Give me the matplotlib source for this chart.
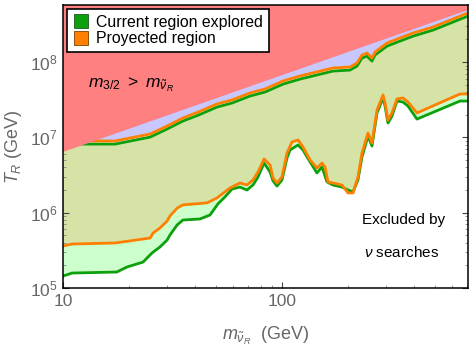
import matplotlib
matplotlib.use("Agg")
import matplotlib.pyplot as plt
from matplotlib.lines import Line2D
from matplotlib.ticker import LogLocator, NullFormatter, LogFormatterMathtext

plt.rcParams['font.family'] = ['Liberation Sans', 'DejaVu Sans']
plt.rcParams['mathtext.fontset'] = 'custom'
plt.rcParams['mathtext.rm'] = 'Liberation Sans'
plt.rcParams['mathtext.it'] = 'Liberation Sans:italic'

# data (m in GeV, T_R in GeV)
m_orange_low = [10, 11.0, 17.3, 25.0, 25.8, 27.7, 29.9, 30.8, 33.2, 35.3, 45.5, 50.5,
                57.9, 64.3, 69.2, 73.7, 77.7, 82.8, 88.2, 91.0, 94.9, 100, 105.4,
                111.1, 118.4, 124.7, 134.3, 144.5, 152.3, 157.2, 162.2, 171.0, 187.9,
                200.2, 211.0, 222.3, 231.9, 247.0, 257.6, 271.6, 289.3, 295.4, 304.8,
                317.9, 335.0, 356.8, 376.1, 413.4, 649.9, 707]
T_orange_low = [3.61e5, 3.84e5, 3.96e5, 4.61e5, 5.37e5, 6.26e5, 7.76e5, 9.04e5, 1.15e6,
                1.27e6, 1.35e6, 1.57e6, 2.13e6, 2.48e6, 2.33e6, 2.72e6, 3.47e6, 5.17e6,
                4.30e6, 2.90e6, 2.48e6, 2.98e6, 6.21e6, 8.69e6, 9.23e6, 7.46e6, 5.01e6,
                3.92e6, 4.57e6, 4.05e6, 2.56e6, 2.48e6, 2.33e6, 1.83e6, 1.83e6, 2.98e6,
                6.21e6, 1.14e7, 8.43e6, 2.31e7, 3.66e7, 2.86e7, 1.70e7, 2.11e7, 3.24e7,
                3.34e7, 2.95e7, 2.11e7, 3.77e7, 3.77e7]

m_green_low = [10, 11.0, 17.6, 19.6, 23.2, 25.5, 27.7, 29.9, 30.8, 33.2, 35.3, 42.2, 46.9,
               51.0, 54.9, 59.1, 64.3, 69.2, 73.7, 77.7, 82.8, 88.2, 91.0, 94.9, 100,
               105.4, 108.8, 118.4, 124.7, 130.1, 144.5, 152.3, 160.6, 171.0, 187.9,
               200.2, 211.0, 222.3, 231.9, 247.0, 257.6, 271.6, 289.3, 295.4, 304.8,
               317.9, 335.0, 356.8, 376.1, 413.4, 649.9, 707]
T_green_low = [1.44e5, 1.58e5, 1.63e5, 1.90e5, 2.21e5, 2.92e5, 3.50e5, 4.34e5, 5.06e5,
               6.87e5, 8.00e5, 8.25e5, 9.32e5, 1.31e6, 1.62e6, 2.06e6, 2.19e6, 2.00e6,
               2.33e6, 2.98e6, 4.57e6, 3.47e6, 2.64e6, 2.26e6, 2.72e6, 5.33e6, 6.80e6,
               7.93e6, 6.80e6, 5.49e6, 3.37e6, 4.05e6, 2.56e6, 2.33e6, 2.19e6, 2.00e6,
               1.88e6, 2.72e6, 5.49e6, 1.04e7, 7.69e6, 2.11e7, 3.34e7, 2.61e7, 1.55e7,
               1.92e7, 3.04e7, 2.95e7, 2.61e7, 1.75e7, 3.04e7, 3.04e7]

m_up = [10, 17.3, 25.0, 29.2, 35.3, 41.4, 50.5, 59.1, 71.4, 83.6, 101.1, 120.9, 171.0,
        204.5, 220.0, 231.9, 244.4, 257.6, 265.9, 301.7, 345.7, 396.4, 489.3, 707]
T_orange_up = [8.96e6, 8.96e6, 1.11e7, 1.37e7, 1.81e7, 2.17e7, 2.78e7, 3.14e7, 3.89e7,
               4.39e7, 5.61e7, 6.54e7, 8.35e7, 8.61e7, 9.73e7, 1.24e8, 1.32e8, 1.13e8,
               1.36e8, 1.79e8, 2.09e8, 2.43e8, 2.92e8, 4.49e8]
T_green_up = [8.15e6, 8.15e6, 1.01e7, 1.25e7, 1.65e7, 1.97e7, 2.53e7, 2.86e7, 3.54e7,
              4.0e7, 5.1e7, 5.95e7, 7.6e7, 7.83e7, 8.85e7, 1.13e8, 1.20e8, 1.03e8,
              1.24e8, 1.63e8, 1.90e8, 2.21e8, 2.66e8, 4.09e8]

# m_3/2 = m_sneutrino boundary
m_line = [10, 707]
T_line = [6.4e6, 4.92e8]

xmin, xmax = 10, 707
ymin, ymax = 1e5, 5.73e8

c_red = '#ff8080'
c_lav = '#c8c8ff'
c_yg = '#d6e3a6'
c_lg = '#ccffcc'
c_cream = '#f2f0d6'
c_green = '#0da00d'
c_orange = '#ff8000'

fig = plt.figure(figsize=(4.76, 3.54), dpi=100)
ax = fig.add_axes([63 / 476, 1 - 288 / 354, 405 / 476, 283 / 354])
ax.set_xscale('log')
ax.set_yscale('log')
ax.set_xlim(xmin, xmax)
ax.set_ylim(ymin, ymax)

# filled bands (polygons, one curve forward and the other back)
ax.fill(list(m_up) + [xmax, xmin], list(T_orange_up) + [ymax, ymax], color=c_lav, lw=0)
ax.fill(m_up + m_up[::-1], T_green_up + T_orange_up[::-1], color=c_cream, lw=0)
ax.fill(m_orange_low + m_up[::-1], T_orange_low + T_green_up[::-1], color=c_yg, lw=0)
ax.fill(m_green_low + m_orange_low[::-1], T_green_low + T_orange_low[::-1], color=c_lg, lw=0)

ax.plot(m_green_low, T_green_low, color=c_green, lw=2)
ax.plot(m_up, T_green_up, color=c_green, lw=2)
ax.plot(m_orange_low, T_orange_low, color=c_orange, lw=2)
ax.plot(m_up, T_orange_up, color=c_orange, lw=2)

# gravitino heavier than sneutrino
ax.fill(m_line + [xmax, xmin], T_line + [ymax, ymax], color=c_red, lw=0, zorder=3)

ax.tick_params(which='both', direction='in', top=True, right=True)
ax.tick_params(which='major', length=4, width=0.8, color='#444444',
               labelsize=12.5, labelcolor='#666666', pad=4)
ax.tick_params(which='minor', length=2.5, width=0.6, color='#888888')
ax.xaxis.set_major_locator(LogLocator(base=10))
ax.xaxis.set_minor_locator(LogLocator(base=10, subs=range(2, 10)))
ax.xaxis.set_minor_formatter(NullFormatter())
ax.xaxis.set_major_formatter(plt.FuncFormatter(lambda v, p: '%d' % v))
ax.yaxis.set_major_formatter(LogFormatterMathtext())
ax.yaxis.set_minor_locator(LogLocator(base=10, subs=range(2, 10)))
ax.yaxis.set_minor_formatter(NullFormatter())
for s in ax.spines.values():
    s.set_linewidth(1.1)
    s.set_zorder(5)

ax.set_xlabel(r'$m_{\tilde{\nu}_R}$  (GeV)', fontsize=13, color='#666666', labelpad=12)
ax.set_ylabel(r'$T_R$ (GeV)', fontsize=13, color='#666666', labelpad=4)

ax.text(0.062, 0.717, r'$m_{3/2}\ >\ m_{\tilde{\nu}_R}$', transform=ax.transAxes,
        fontsize=12.5, va='center', ha='left', zorder=6)
ax.text(0.842, 0.240, 'Excluded by', transform=ax.transAxes, fontsize=11,
        ha='center', va='center', zorder=6)
ax.text(0.837, 0.124, r'$\nu$ searches', transform=ax.transAxes, fontsize=11,
        ha='center', va='center', zorder=6)

handles = [Line2D([], [], ls='', marker='s', ms=10, mfc=c_green, mec='#225522', mew=0.6),
           Line2D([], [], ls='', marker='s', ms=10, mfc=c_orange, mec='#774400', mew=0.6)]
leg = ax.legend(handles, ['Current region explored', 'Proyected region'],
                loc='upper left', bbox_to_anchor=(0.01, 0.986), borderaxespad=0,
                fontsize=11.4, frameon=True, fancybox=False, framealpha=1,
                edgecolor='black', handletextpad=0.5, handlelength=1.0,
                borderpad=0.35, labelspacing=0.1)
leg.get_frame().set_linewidth(1.2)
leg.set_zorder(7)

fig.savefig('out.png', dpi=100)
